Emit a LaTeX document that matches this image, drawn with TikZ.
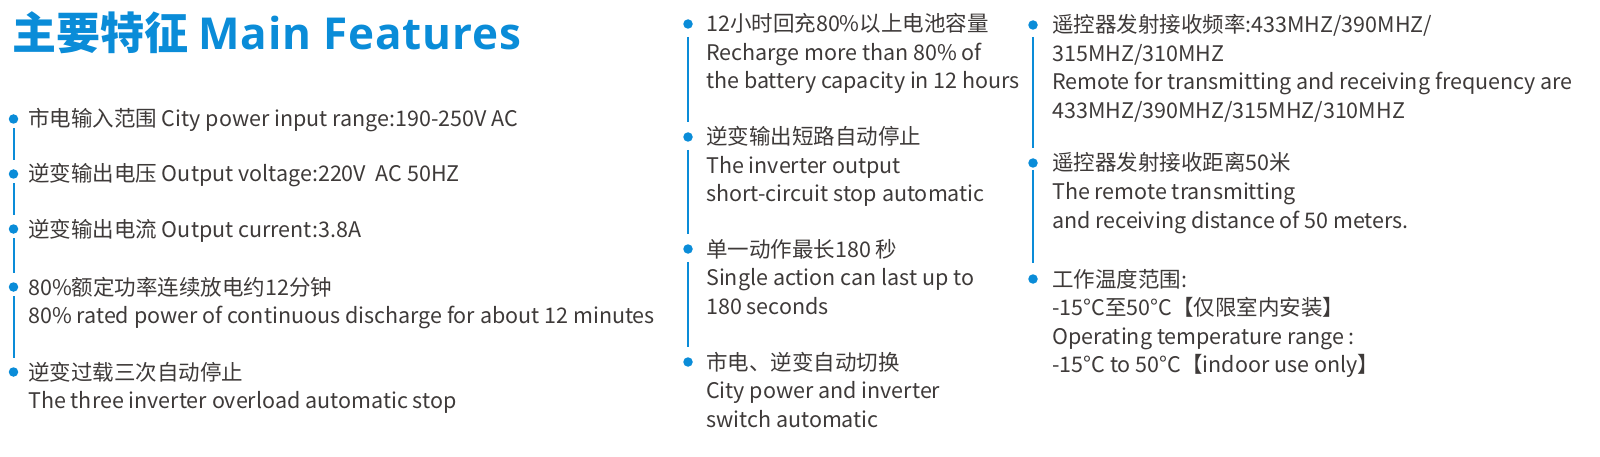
\documentclass[tikz,border=0pt]{standalone}
\usepackage{fontspec}
\setmainfont{Noto Sans CJK SC}
\newfontfamily\titlelat{Open Sans}[LetterSpace=2]
\definecolor{fblue}{HTML}{0A8CD8}
\definecolor{fgray}{HTML}{3E3A39}
\begin{document}
\begin{tikzpicture}[x=1pt,y=-1pt,
  dot/.style={circle,fill=fblue,inner sep=0pt,minimum size=9.5pt},
  link/.style={draw=fblue,line width=2pt},
  txt/.style={anchor=base west,inner sep=0pt,text=fgray,font=\fontsize{21.5}{21.5}\selectfont},
  ttl/.style={anchor=base west,inner sep=0pt,text=fblue,font=\fontsize{44}{44}\selectfont\bfseries}]
\useasboundingbox (0,0) rectangle (1600,457);

\node[ttl] (title) at (12,50) {主要特征 {\titlelat Main Features}};

% column 1
\node[dot] (d11) at (13.5,119) {};
\node[txt] (t11) at (28,127) {市电输入范围 City power input range:190-250V AC};
\node[dot] (d12) at (13.5,174) {};
\node[txt] (t12) at (28,182) {逆变输出电压 Output voltage:220V\ \ AC 50HZ};
\node[dot] (d13) at (13.5,229) {};
\node[txt] (t13) at (28,237) {逆变输出电流 Output current:3.8A};
\node[dot] (d14) at (13.5,287) {};
\node[txt] (t14) at (28,295) {80\%额定功率连续放电约12分钟};
\node[txt] (t14b) at (28,323.5) {80\% rated power of continuous discharge for about 12 minutes};
\node[dot] (d15) at (13.5,372) {};
\node[txt] (t15) at (28,380) {逆变过载三次自动停止};
\node[txt] (t15b) at (28,408.5) {The three inverter overload automatic stop};
\draw[link,shorten <=4.5pt,shorten >=9.5pt] (d11) -- (d12);
\draw[link,shorten <=4.5pt,shorten >=9.5pt] (d12) -- (d13);
\draw[link,shorten <=4.5pt,shorten >=9.5pt] (d13) -- (d14);
\draw[link,shorten <=4.5pt,shorten >=9.5pt] (d14) -- (d15);

% column 2
\node[dot] (d21) at (688,24) {};
\node[txt] (t21) at (706,32) {12小时回充80\%以上电池容量};
\node[txt] (t21b) at (706,60.5) {Recharge more than 80\% of};
\node[txt] (t21c) at (706,89) {the battery capacity in 12 hours};
\node[dot] (d22) at (688,137) {};
\node[txt] (t22) at (706,145) {逆变输出短路自动停止};
\node[txt] (t22b) at (706,173.5) {The inverter output};
\node[txt] (t22c) at (706,202) {short-circuit stop automatic};
\node[dot] (d23) at (688,249) {};
\node[txt] (t23) at (706,257) {单一动作最长180 秒};
\node[txt] (t23b) at (706,285.5) {Single action can last up to};
\node[txt] (t23c) at (706,314) {180 seconds};
\node[dot] (d24) at (688,362) {};
\node[txt] (t24) at (706,370) {市电、逆变自动切换};
\node[txt] (t24b) at (706,398.5) {City power and inverter};
\node[txt] (t24c) at (706,427) {switch automatic};
\draw[link,shorten <=8pt,shorten >=10pt] (d21) -- (d22);
\draw[link,shorten <=8pt,shorten >=10pt] (d22) -- (d23);
\draw[link,shorten <=8pt,shorten >=10pt] (d23) -- (d24);

% column 3
\node[dot] (d31) at (1033,25) {};
\node[txt] (t31) at (1052,33) {遥控器发射接收频率:433MHZ/390MHZ/};
\node[txt] (t31b) at (1052,61.5) {315MHZ/310MHZ};
\node[txt] (t31c) at (1052,90) {Remote for transmitting and receiving frequency are};
\node[txt] (t31d) at (1052,118.5) {433MHZ/390MHZ/315MHZ/310MHZ};
\node[dot] (d32) at (1033,163) {};
\node[txt] (t32) at (1052,171) {遥控器发射接收距离50米};
\node[txt] (t32b) at (1052,199.5) {The remote transmitting};
\node[txt] (t32c) at (1052,228) {and receiving distance of 50 meters.};
\node[dot] (d33) at (1033,279) {};
\node[txt] (t33) at (1052,287) {工作温度范围:};
\node[txt] (t33b) at (1052,315.5) {-15°C至50°C【仅限室内安装】};
\node[txt] (t33c) at (1052,344) {Operating temperature range :};
\node[txt] (t33d) at (1052,372.5) {-15°C to 50°C【indoor use only】};
\draw[link,shorten <=7pt,shorten >=10pt] (d31) -- (d32);
\draw[link,shorten <=2pt,shorten >=11pt] (d32) -- (d33);
\end{tikzpicture}
\end{document}
